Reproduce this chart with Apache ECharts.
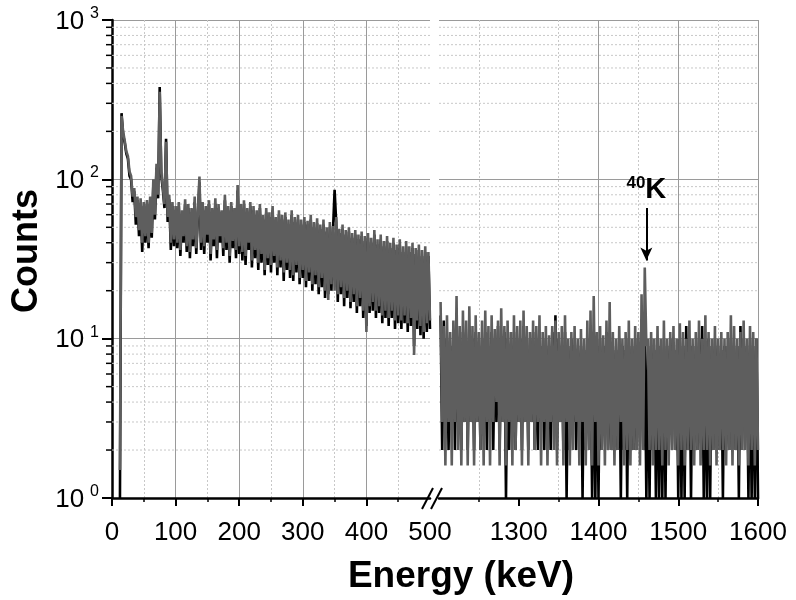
<!DOCTYPE html>
<html>
<head>
<meta charset="utf-8">
<title>Spectrum</title>
<script src="https://cdn.jsdelivr.net/npm/echarts@6/dist/echarts.min.js"></script>
<style>
  html, body { margin: 0; padding: 0; background: #fff; }
  #chart { width: 796px; height: 600px; }
</style>
</head>
<body>
<div id="chart"></div>
<script>
// left part of the spectrum: 12.5 .. 500 keV, one point every 2.5 keV
var leftStartKeV = 12.5;
var leftStepKeV = 2.5;
// right part: 1202 .. 1600 keV, one point every 2 keV
var rightStartKeV = 1202;
var rightStepKeV = 2;

var grayLeft = [
  1.5, 250, 200, 175, 150, 140, 112, 105, 78, 88,
  58, 78, 48, 76, 40, 72, 44, 74, 40, 78,
  46, 100, 60, 125, 80, 355, 110, 90, 70, 172,
  58, 80, 40, 72, 42,
  68, 40, 72, 36, 64, 44, 75, 38, 70, 35,
  66, 42, 78, 37, 62, 104, 40, 72, 38, 68,
  45, 74, 34, 66, 42, 76, 36, 70, 44, 64,
  37, 80, 40, 68, 33, 72, 41, 66, 36, 92,
  38,
  70, 35, 74, 33, 66, 40, 72, 31, 68, 36,
  64, 30, 70, 34, 60, 27, 66, 32, 62, 29,
  68, 33, 58, 28, 64, 31, 60, 26, 62, 30,
  56, 27, 64, 25, 58, 29, 60, 24, 56, 27,
  58, 23, 55, 26, 60, 22, 54, 25, 57, 21,
  52, 24, 56, 20, 50, 17.5, 54, 22, 51, 20,
  58, 19, 49, 21, 52, 18, 48, 20, 50, 17,
  46, 19, 48, 16, 45, 18, 47, 15, 44, 11,
  46, 16, 43, 17, 48, 15, 42, 16, 45, 14,
  41, 15, 44, 13.5, 40, 15, 43, 13, 39, 14,
  42, 13, 38, 14, 41, 12.5, 38, 13.5, 40, 7.9,
  37, 13, 39, 12, 36, 11, 38, 12.5, 35, 13
];
var blackLeft = [
  1, 260, 190, 170, 145, 135, 105, 100, 72, 84,
  52, 74, 44, 70, 35, 68, 40, 70, 37, 72,
  43, 92, 56, 118, 76, 380, 105, 86, 66, 180,
  54, 75, 36, 68, 38,
  64, 37, 68, 33, 60, 40, 70, 35, 66, 32,
  62, 38, 72, 34, 58, 96, 36, 68, 34, 64,
  40, 70, 31, 62, 38, 70, 32, 66, 40, 60,
  33, 74, 36, 64, 30, 68, 37, 62, 32, 85,
  34,
  66, 31, 70, 29, 62, 36, 68, 28, 64, 32,
  60, 27, 66, 30, 56, 25, 62, 29, 58, 26,
  64, 30, 54, 25, 60, 28, 56, 23, 58, 27,
  52, 24, 60, 23, 54, 26, 56, 22, 52, 24,
  54, 21, 52, 23, 56, 20, 50, 22, 53, 19,
  49, 21, 52, 18, 47, 19, 50, 20, 48, 86,
  54, 17, 46, 19, 49, 16, 45, 18, 47, 15.5,
  43, 17, 45, 14.5, 42, 16, 44, 13.5, 41, 12,
  43, 14.5, 40, 15, 45, 13.5, 39, 14.5, 42, 12.5,
  38, 13.5, 41, 12, 37, 13.5, 40, 11.5, 36, 12.5,
  39, 11.5, 35, 12.5, 38, 11, 35, 12, 37, 9,
  34, 11.5, 36, 10.5, 33, 10, 35, 11, 33, 11.5
];
var grayRight = [
  17, 3, 12, 1.6, 14, 3, 11, 1.6, 13, 3,
  18.5, 2, 12, 1.6, 15, 3, 13, 1.6, 16, 3,
  12, 1.6, 14, 3, 11, 2, 13, 1.6, 15, 3,
  12, 1.6, 14, 3, 11.5, 4, 13, 1.6, 15.5, 3,
  12, 1.6, 13, 3, 11, 1.6, 14, 2, 12, 3,
  13, 1.6, 15, 3, 12, 1.6, 11, 3, 13, 2,
  12, 3, 14, 1.6, 11, 3, 12, 1.6, 10.5, 3,
  12, 2, 13, 1.6, 11, 3, 12, 1.6, 14, 3,
  10, 1.6, 11, 2, 12, 3, 10, 1.6, 11.5, 3,
  10, 1.6, 13, 2, 15, 1.6, 18.5, 3, 11, 1.6,
  12, 2, 10.5, 1.6, 13, 2, 17, 2, 11, 1.6,
  10, 2, 12, 3, 10, 1.6, 11, 2, 13, 1.6,
  10, 2, 12, 2, 11, 1.6, 19, 2, 28, 9,
  10, 2, 11, 1.6, 10, 2, 12, 2, 10, 1.6,
  13, 2, 10, 1.6, 11, 2, 12, 2, 10, 1.6,
  12.5, 2, 11, 1.6, 10, 2, 13, 2, 10, 1.6,
  11, 2, 13, 1.6, 10, 2, 14, 2, 11, 1.6,
  10, 2, 12, 1.6, 10, 2, 11, 2, 10, 1.6,
  11, 2, 14, 1.6, 12, 2, 10, 1.6, 11, 2,
  13, 2, 10, 1.6, 12, 2, 11, 1.6, 10, 2
];
var blackRight = [
  14, 2, 13, 3, 10, 2, 9, 3, 11, 2,
  12, 3, 10, 2, 11, 3, 9, 2, 12, 3,
  10, 2, 11, 3, 9, 2, 10, 3, 11, 2,
  9, 3, 11, 2, 10, 3, 12, 2, 10, 3,
  11, 1, 10, 2, 9, 3, 11, 2, 10, 3,
  10, 2, 12, 3, 9, 2, 10, 3, 11, 2,
  10, 2, 11, 3, 9, 2, 10, 3, 9, 2,
  11, 3, 14, 2, 10, 3, 9, 2, 11, 1,
  9, 2, 10, 3, 9, 2, 8.5, 3, 9, 1,
  8.5, 2, 10, 3, 9, 1, 11, 1, 9, 1,
  10, 2, 9, 3, 11, 2, 10, 2, 9, 3,
  8.5, 2, 10, 1, 9, 2, 8.5, 1, 10, 2,
  9, 2, 10, 2, 9, 3, 12, 2, 10, 1,
  9, 1, 10, 2, 8.5, 1, 10, 1, 9, 1,
  10, 1, 9, 2, 10, 3, 9, 2, 8.5, 1,
  10, 1, 9, 1, 12, 2, 10, 1, 9, 2,
  9, 2, 10, 3, 12, 1, 9, 1, 10, 1,
  9, 2, 10, 3, 9, 2, 8.5, 1, 9, 2,
  9, 2, 10, 3, 9, 2, 9, 1, 12, 2,
  10, 3, 9, 1, 10, 1, 9, 1, 10, 1
];

var leftTicks = [0, 100, 200, 300, 400, 500];
var rightTicks = [1300, 1400, 1500, 1600];
var minorCounts = [2, 3, 4, 5, 6, 7, 8, 9, 20, 30, 40, 50, 60, 70, 80, 90, 200, 300, 400, 500, 600, 700, 800, 900];
var peakEnergy = 1460;
var peakMass = '40';
var peakElement = 'K';

var FONT = '"Liberation Sans", Arial, Helvetica, sans-serif';
var GRAY = '#5e5e5e';
var LINE_W = 2.6;

function toPairs(values, start, step) {
  return values.map(function (v, i) {
    return [start + i * step, v];
  });
}

// dotted minor grid lines of the log axis (and the short ticks on the left axis)
function minorRender(withTicks) {
  return function (params, api) {
    var cs = params.coordSys;
    var p = api.coord([api.value(0), api.value(1)]);
    var children = [{
      type: 'line',
      shape: { x1: cs.x, y1: p[1], x2: cs.x + cs.width, y2: p[1] },
      style: { stroke: '#c8c8c8', lineWidth: 1, lineDash: [2, 2] }
    }];
    if (withTicks) {
      children.push({
        type: 'line',
        shape: { x1: cs.x - 6, y1: p[1], x2: cs.x, y2: p[1] },
        style: { stroke: '#000', lineWidth: 1.5 }
      });
    }
    return { type: 'group', children: children };
  };
}

function xAxisBase(grid, min, max, ticks) {
  return {
    gridIndex: grid,
    type: 'value',
    min: min,
    max: max,
    interval: 100,
    axisLine: { onZero: false, lineStyle: { color: '#000', width: 2.5 } },
    axisTick: { length: 8, customValues: ticks.filter(function (t) { return t < 500 || t > 1200; }), lineStyle: { color: '#000', width: 2 } },
    minorTick: { show: true, splitNumber: 2, length: 4, lineStyle: { color: '#000', width: 1.5 } },
    splitLine: { show: true, showMinLine: grid === 0, lineStyle: { color: '#9a9a9a', width: 1 } },
    minorSplitLine: { show: true, lineStyle: { color: '#c8c8c8', width: 1, type: [2, 2] } },
    axisLabel: {
      customValues: ticks,
      fontFamily: FONT, fontSize: 26, color: '#000', margin: 22,
      formatter: function (v) { return String(v); }
    }
  };
}

function yAxisBase(grid) {
  return {
    gridIndex: grid,
    type: 'log',
    logBase: 10,
    min: 1,
    max: 1000,
    axisLine: { show: grid === 0, onZero: false, lineStyle: { color: '#000', width: 2.5 } },
    axisTick: { show: grid === 0, length: 10, lineStyle: { color: '#000', width: 2 } },
    splitLine: { show: true, lineStyle: { color: '#9a9a9a', width: 1 } },
    axisLabel: {
      show: grid === 0,
      margin: 13,
      formatter: function (v) {
        return '{b|10}{e|' + Math.round(Math.log(v) / Math.LN10) + '}';
      },
      rich: {
        b: { fontFamily: FONT, fontSize: 26, color: '#000', verticalAlign: 'bottom' },
        e: { fontFamily: FONT, fontSize: 16, color: '#000', verticalAlign: 'bottom', padding: [0, 0, 13, 6] }
      }
    }
  };
}

var chart = echarts.init(document.getElementById('chart'));

var option = {
  animation: false,
  backgroundColor: '#fff',
  grid: [
    { left: 112, top: 20, width: 318, height: 478, outerBoundsMode: 'none' },
    { left: 439, top: 20, width: 319, height: 478, outerBoundsMode: 'none' }
  ],
  xAxis: [
    xAxisBase(0, 0, 500, leftTicks),
    xAxisBase(1, 1200, 1600, rightTicks)
  ],
  yAxis: [yAxisBase(0), yAxisBase(1)],
  graphic: [
    // axis break marks
    { type: 'line', z: 100, shape: { x1: 422, y1: 509, x2: 433, y2: 488 }, style: { stroke: '#000', lineWidth: 2 } },
    { type: 'line', z: 100, shape: { x1: 431, y1: 509, x2: 442, y2: 488 }, style: { stroke: '#000', lineWidth: 2 } },
    {
      type: 'text', x: 461, y: 577,
      style: { text: 'Energy (keV)', font: 'bold 37px ' + FONT, fill: '#000', align: 'center', verticalAlign: 'middle' }
    },
    {
      type: 'text', x: 27, y: 251, rotation: Math.PI / 2,
      style: { text: 'Counts', font: 'bold 36px ' + FONT, fill: '#000', align: 'center', verticalAlign: 'middle' }
    }
  ],
  series: [
    {
      type: 'custom', xAxisIndex: 0, yAxisIndex: 0, z: 1, silent: true,
      renderItem: minorRender(true),
      data: minorCounts.map(function (v) { return [0, v]; })
    },
    {
      type: 'custom', xAxisIndex: 1, yAxisIndex: 1, z: 1, silent: true,
      renderItem: minorRender(false),
      data: minorCounts.map(function (v) { return [1200, v]; })
    },
    {
      type: 'line', xAxisIndex: 0, yAxisIndex: 0, z: 2,
      data: toPairs(blackLeft, leftStartKeV, leftStepKeV),
      showSymbol: false, symbol: 'none',
      itemStyle: { color: '#000' },
      lineStyle: { color: '#000', width: LINE_W }
    },
    {
      type: 'line', xAxisIndex: 1, yAxisIndex: 1, z: 2,
      data: toPairs(blackRight, rightStartKeV, rightStepKeV),
      showSymbol: false, symbol: 'none',
      itemStyle: { color: '#000' },
      lineStyle: { color: '#000', width: LINE_W }
    },
    {
      type: 'line', xAxisIndex: 0, yAxisIndex: 0, z: 3,
      data: toPairs(grayLeft, leftStartKeV, leftStepKeV),
      showSymbol: false, symbol: 'none',
      itemStyle: { color: GRAY },
      lineStyle: { color: GRAY, width: LINE_W }
    },
    {
      type: 'line', xAxisIndex: 1, yAxisIndex: 1, z: 3,
      data: toPairs(grayRight, rightStartKeV, rightStepKeV),
      showSymbol: false, symbol: 'none',
      itemStyle: { color: GRAY },
      lineStyle: { color: GRAY, width: LINE_W },
      markLine: {
        silent: true,
        animation: false,
        symbol: ['none', 'arrow'],
        symbolSize: [9, 13],
        lineStyle: { color: '#000', width: 2, type: 'solid' },
        label: {
          show: true,
          position: 'start',
          distance: 4,
          formatter: '{s|' + peakMass + '}{k|' + peakElement + '}',
          rich: {
            s: { fontFamily: FONT, fontWeight: 'bold', fontSize: 17, color: '#000', verticalAlign: 'bottom', padding: [0, 0, 12, 0] },
            k: { fontFamily: FONT, fontWeight: 'bold', fontSize: 29, color: '#000', verticalAlign: 'bottom' }
          }
        },
        data: [[{ coord: [peakEnergy, 66] }, { coord: [peakEnergy, 31] }]]
      }
    }
  ]
};

chart.setOption(option);
</script>
</body>
</html>
